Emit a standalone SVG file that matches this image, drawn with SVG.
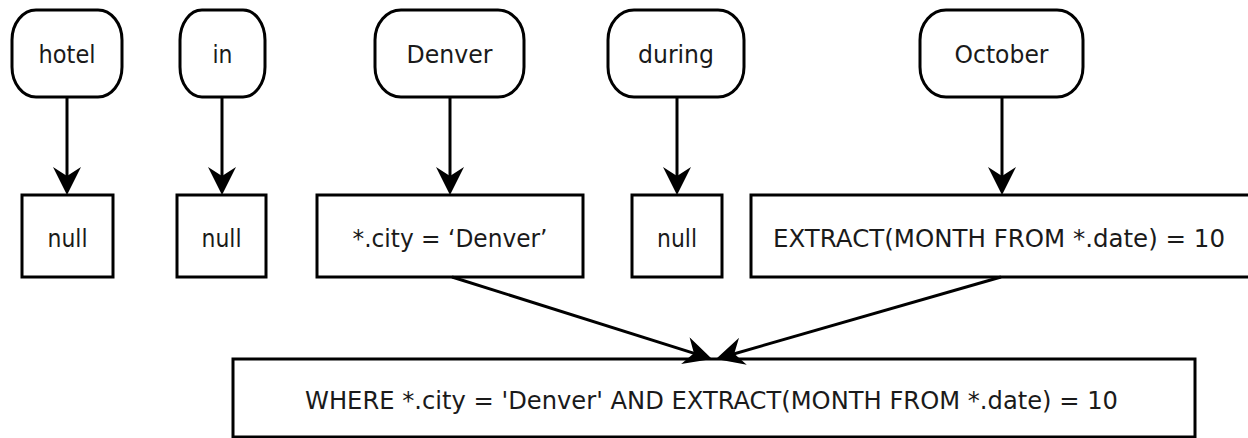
<svg xmlns="http://www.w3.org/2000/svg" width="1248" height="438" viewBox="0 0 1248 438">
  <style>
    .term { fill: #ffffff; stroke: #000000; stroke-width: 3; }
    .box { fill: #ffffff; stroke: #000000; stroke-width: 3; }
    .label { font-family: "DejaVu Sans", "Liberation Sans", sans-serif; font-size: 25px; fill: #1a1a1a; text-anchor: middle; }
    .edge { fill: none; stroke: #000000; stroke-width: 3; marker-end: url(#head); }
  </style>
  <defs>
    <!-- notched arrowhead; the line stops 12px short of the tip -->
    <marker id="head" markerUnits="userSpaceOnUse" viewBox="0 0 28 28" markerWidth="28" markerHeight="28" refX="16" refY="14" orient="auto">
      <path d="M0,0 L28,14 L0,28 L9,14 Z" fill="#000000"/>
    </marker>
  </defs>
  <rect width="1248" height="438" fill="#ffffff"/>

  <!-- input words -->
  <g id="word-hotel">
    <rect class="term" x="12" y="10" width="110" height="87" rx="24" ry="30"/>
    <text class="label" x="67" y="63" textLength="57" lengthAdjust="spacingAndGlyphs">hotel</text>
  </g>
  <g id="word-in">
    <rect class="term" x="180" y="10" width="85" height="87" rx="22" ry="30"/>
    <text class="label" x="222.5" y="63" textLength="20" lengthAdjust="spacingAndGlyphs">in</text>
  </g>
  <g id="word-denver">
    <rect class="term" x="375" y="10" width="149" height="87" rx="26" ry="30"/>
    <text class="label" x="449.5" y="63" textLength="86" lengthAdjust="spacingAndGlyphs">Denver</text>
  </g>
  <g id="word-during">
    <rect class="term" x="608" y="10" width="136" height="87" rx="26" ry="30"/>
    <text class="label" x="676" y="63" textLength="76" lengthAdjust="spacingAndGlyphs">during</text>
  </g>
  <g id="word-october">
    <rect class="term" x="920" y="10" width="163" height="87" rx="26" ry="30"/>
    <text class="label" x="1001.5" y="63" textLength="94" lengthAdjust="spacingAndGlyphs">October</text>
  </g>

  <!-- per-word conditions -->
  <g id="cond-hotel">
    <rect class="box" x="22" y="195" width="91" height="82"/>
    <text class="label" x="67.5" y="247" textLength="40" lengthAdjust="spacingAndGlyphs">null</text>
  </g>
  <g id="cond-in">
    <rect class="box" x="177" y="195" width="89" height="82"/>
    <text class="label" x="221.5" y="247" textLength="40" lengthAdjust="spacingAndGlyphs">null</text>
  </g>
  <g id="cond-denver">
    <rect class="box" x="317" y="195" width="266" height="82"/>
    <text class="label" x="450" y="247" textLength="195" lengthAdjust="spacingAndGlyphs">*.city = ‘Denver’</text>
  </g>
  <g id="cond-during">
    <rect class="box" x="632" y="195" width="90" height="82"/>
    <text class="label" x="677" y="247" textLength="40" lengthAdjust="spacingAndGlyphs">null</text>
  </g>
  <g id="cond-october">
    <rect class="box" x="751" y="195" width="500" height="82"/>
    <text class="label" x="999" y="247" textLength="452" lengthAdjust="spacingAndGlyphs">EXTRACT(MONTH FROM *.date) = 10</text>
  </g>

  <!-- combined clause -->
  <g id="where-clause">
    <rect class="box" x="233" y="359" width="962" height="78"/>
    <text class="label" x="711.5" y="409" textLength="813" lengthAdjust="spacingAndGlyphs">WHERE *.city = 'Denver' AND EXTRACT(MONTH FROM *.date) = 10</text>
  </g>

  <g id="connectors">
    <line class="edge" x1="67" y1="97" x2="67" y2="183"/>
    <line class="edge" x1="222" y1="97" x2="222" y2="183"/>
    <line class="edge" x1="450" y1="97" x2="450" y2="183"/>
    <line class="edge" x1="677" y1="97" x2="677" y2="183"/>
    <line class="edge" x1="1002" y1="97" x2="1002" y2="183"/>
    <line class="edge" x1="452" y1="277" x2="700.6" y2="355.4"/>
    <line class="edge" x1="1001" y1="277" x2="727.5" y2="355.7"/>
  </g>
</svg>
